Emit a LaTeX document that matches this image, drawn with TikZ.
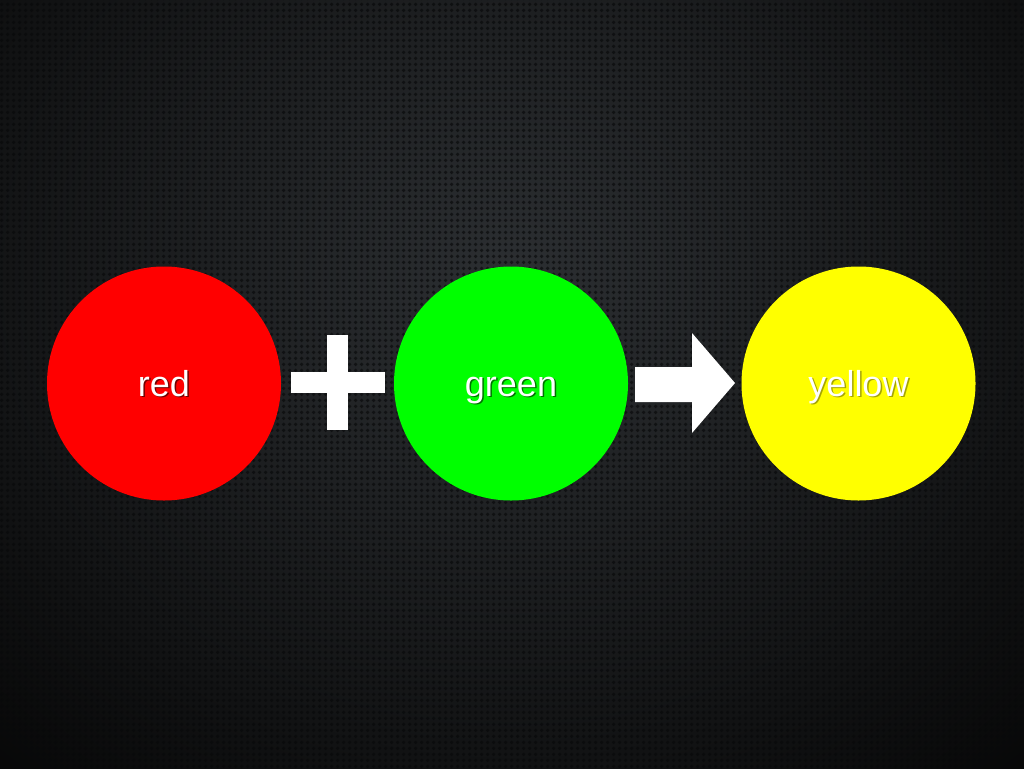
\documentclass[tikz,border=0pt]{standalone}
\usepackage{fontspec}
\setmainfont{Liberation Sans}
\usetikzlibrary{patterns,calc}
\definecolor{bgin}{HTML}{2C2F32}
\definecolor{bgout}{HTML}{040404}
\definecolor{dotc}{HTML}{08090A}
\tikzset{
  ball/.style={circle, minimum size=234pt, inner sep=0pt},
  lbl/.style={text=white, anchor=base, inner sep=0pt, font=\fontsize{36}{40}\selectfont},
  shd/.style={text=black, anchor=base, inner sep=0pt, text opacity=0.55, font=\fontsize{36}{40}\selectfont},
  sym/.style={fill=white, draw=none}
}
\pgfdeclarepatternformonly{holes}{\pgfpointorigin}{\pgfpoint{6pt}{6pt}}{\pgfpoint{6pt}{6pt}}{
  \pgfpathcircle{\pgfpoint{3pt}{3pt}}{2.2pt}\pgfusepath{fill}
}
\begin{document}
\begin{tikzpicture}[x=1pt,y=-1pt]
\useasboundingbox (0,0) rectangle (1024,768);
\shade[inner color=bgin, outer color=bgout, shading=radial]
  (-320,-440) rectangle (1344,1000);
\fill[pattern=holes, pattern color=dotc, opacity=0.65] (0,0) rectangle (1024,768);

\node[ball, fill={rgb,255:red,255;green,0;blue,0}] (red) at (164,383.5) {};
\node[ball, fill={rgb,255:red,0;green,255;blue,0}] (green) at (511,383.5) {};
\node[ball, fill={rgb,255:red,255;green,255;blue,0}] (yellow) at (858.5,383.5) {};

\node[shd] at ($(red)+(1.5,14)$) {red};
\node[lbl] at ($(red)+(0,12.5)$) {red};
\node[shd] at ($(green)+(1.5,14)$) {green};
\node[lbl] at ($(green)+(0,12.5)$) {green};
\node[shd, text opacity=0.35] at ($(yellow)+(1.5,14)$) {yellow};
\node[lbl] at ($(yellow)+(0,12.5)$) {yellow};

% plus sign
\fill[sym] (291,372) rectangle (385,393);
\fill[sym] (327,335) rectangle (348,430);
% block arrow
\fill[sym] (635,367) -- (692,367) -- (692,333) -- (735,383) -- (692,433) -- (692,402) -- (635,402) -- cycle;
\end{tikzpicture}
\end{document}
